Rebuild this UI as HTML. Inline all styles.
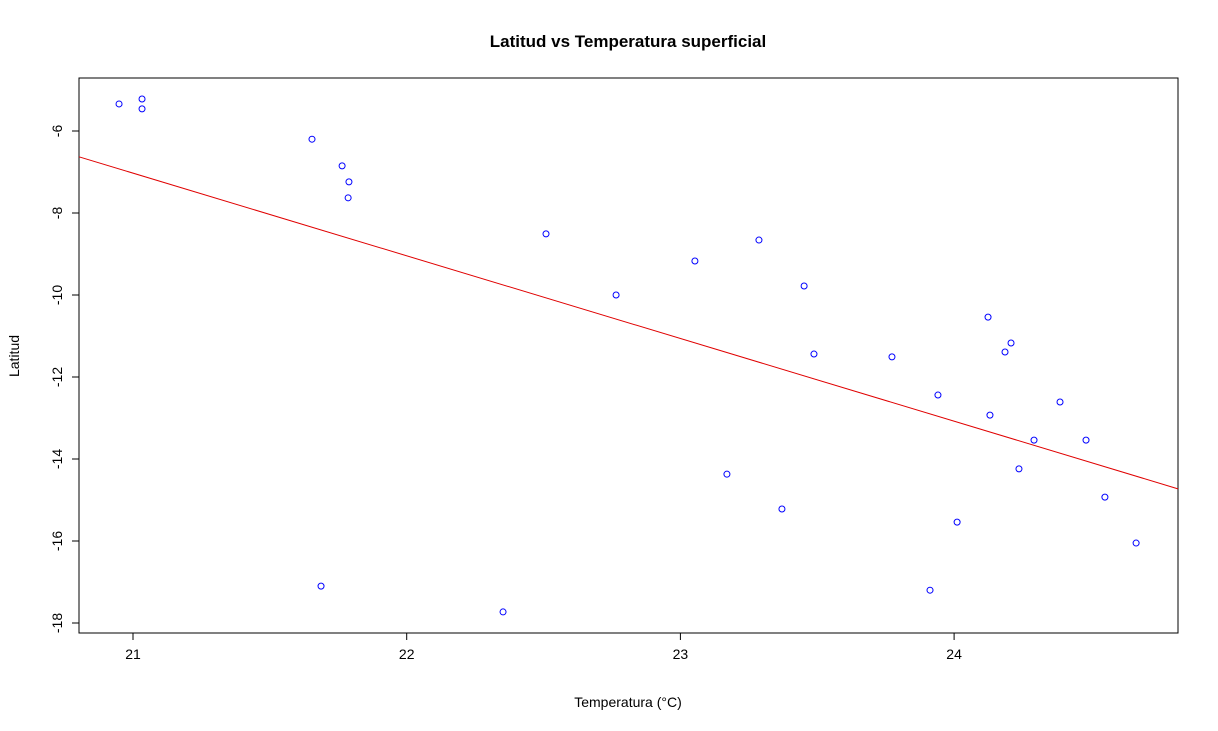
<!DOCTYPE html>
<html><head><meta charset="utf-8"><style>
html,body{margin:0;padding:0;background:#fff;}
svg{display:block;font-family:"Liberation Sans",Arial,sans-serif;}
</style></head><body>
<svg id="chart" width="1218" height="731" viewBox="0 0 1218 731">
<rect width="1218" height="731" fill="#fff"/>
<text x="628" y="47" text-anchor="middle" font-size="17" font-weight="bold">Latitud vs Temperatura superficial</text>
<text x="628" y="707" text-anchor="middle" font-size="14">Temperatura (°C)</text>
<text transform="translate(19,356) rotate(-90)" text-anchor="middle" font-size="14">Latitud</text>
<rect x="79" y="78" width="1099" height="555" fill="none" stroke="#000" stroke-width="1"/>
<g id="xaxis"></g>
<g id="yaxis"></g>
<g id="fit"></g>
<g id="pts"></g>
</svg>
<script>
const xTicks = [21, 22, 23, 24];
const yTicks = [-6, -8, -10, -12, -14, -16, -18];
const temps = [20.949,21.033,21.033,21.654,21.764,21.789,21.786,21.687,22.352,22.509,22.765,23.053,23.287,23.170,23.371,23.452,23.488,23.773,23.941,23.912,24.011,24.124,24.131,24.186,24.208,24.237,24.292,24.387,24.482,24.551,24.665];
const lats = [-5.34,-5.22,-5.46,-6.20,-6.85,-7.24,-7.63,-17.10,-17.73,-8.51,-10.0,-9.17,-8.66,-14.37,-15.22,-9.78,-11.44,-11.51,-12.44,-17.20,-15.54,-10.54,-12.93,-11.39,-11.17,-14.24,-13.54,-12.61,-13.54,-14.93,-16.05];
const fitCoef = [35.33, -2.017];
const NS='http://www.w3.org/2000/svg';
const X0=79,X1=1178,Y0=78,Y1=633;
const xs=v=>133+(v-21)*273.7;
const ys=v=>131-(v+6)*41;
function mk(t,a,p){const e=document.createElementNS(NS,t);for(const k in a)e.setAttribute(k,a[k]);p.appendChild(e);return e;}
const xa=document.getElementById('xaxis'),ya=document.getElementById('yaxis');
xTicks.forEach(t=>{const x=xs(t);
 const l=mk('line',{x1:x,x2:x,y1:Y1,y2:Y1+7,stroke:'#000'},xa);
 
 
 const tx=mk('text',{x:x,y:Y1+26,'text-anchor':'middle','font-size':'14'},xa);tx.textContent=t;
 
 
});
yTicks.forEach(t=>{const y=ys(t);
 const l=mk('line',{x1:X0-7,x2:X0,y1:y,y2:y,stroke:'#000'},ya);
 
 
 const tx=mk('text',{transform:`translate(${X0-17},${y}) rotate(-90)`,'text-anchor':'middle','font-size':'14'},ya);tx.textContent=t;
 
 
});
const fg=document.getElementById('fit');
const xa0=21+(X0-133)/273.7, xa1=21+(X1-133)/273.7;
const fl=mk('line',{x1:X0,x2:X1,y1:ys(fitCoef[0]+fitCoef[1]*xa0),y2:ys(fitCoef[0]+fitCoef[1]*xa1),stroke:'#e00000','stroke-width':1},fg);


const pg=document.getElementById('pts');
temps.forEach((t,i)=>{
 const c=mk('circle',{cx:xs(t),cy:ys(lats[i]),r:3,fill:'none',stroke:'#0000ff','stroke-width':1},pg);
 
 
});
</script>
</body></html>
